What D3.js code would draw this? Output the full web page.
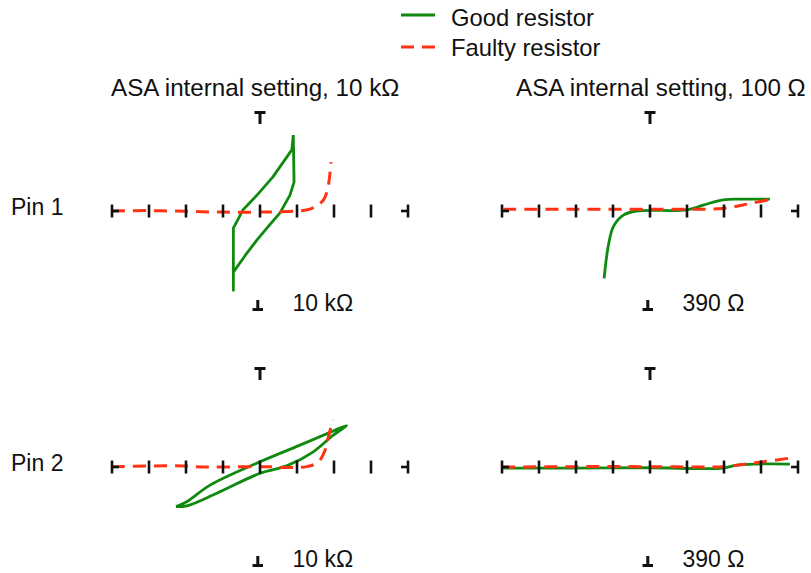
<!DOCTYPE html>
<html>
<head>
<meta charset="utf-8">
<script src="https://cdn.jsdelivr.net/npm/d3@7"></script>
<style>
  html, body { margin: 0; padding: 0; background: #fff; }
  svg { display: block; font-family: "Liberation Sans", Arial, sans-serif; }
</style>
</head>
<body>
<svg id="chart" width="811" height="573"></svg>
<script>
// ---------------- data ----------------
const columnTitles = ["ASA internal setting, 10 k\u03A9", "ASA internal setting, 100 \u03A9"];
const rowLabels = ["Pin 1", "Pin 2"];
const scaleLabels = [["10 k\u03A9", "390 \u03A9"], ["10 k\u03A9", "390 \u03A9"]];
const seriesNames = ["Good resistor", "Faulty resistor"];
const xTicks = [-4, -3, -2, -1, 0, 1, 2, 3, 4];

// Each curve: [x, y] in screen divisions
const goodPin1Set10k = [[0.90,2.05],[0.92,0.78],[0.81,0.43],[0.54,-0.05],[0.22,-0.42],[-0.08,-0.78],[-0.40,-1.20],[-0.72,-1.65],[-0.72,-2.14],[-0.72,-0.46],[-0.46,0.03],[-0.25,0.25],[-0.08,0.43],[0.35,0.92],[0.86,1.65],[0.90,2.05]];
const faultyPin1Set10k = [[-4,0],[-3,0.01],[-2,-0.01],[-1.03,-0.03],[0,-0.03],[1,0],[1.35,0.05],[1.57,0.16],[1.73,0.32],[1.84,0.65],[1.92,1.32]];
const goodPin1Set100 = [[-1.24,-1.82],[-1.13,-0.96],[-0.99,-0.42],[-0.72,-0.11],[-0.36,0],[0.99,0.03],[1.44,0.16],[1.98,0.30],[2.43,0.32],[3.24,0.32]];
const faultyPin1Set100 = [[-3.96,0.05],[-2,0.05],[0,0.05],[1.08,0.05],[1.97,0.07],[2.7,0.2],[3.38,0.34]];
const goodPin2Set10k = [[-2.27,-1.07],[-1.98,-0.94],[-1.35,-0.49],[0,0.14],[1.08,0.59],[1.98,0.97],[2.34,1.12],[1.98,0.86],[1.44,0.41],[0.72,0.03],[0,-0.17],[-1.17,-0.71],[-1.98,-1.05],[-2.27,-1.07]];
const faultyPin2Set10k = [[-4,0.01],[-2.07,0.03],[-1.62,0],[0,0.01],[1.26,0.01],[1.58,0.14],[1.76,0.46],[1.85,0.82],[1.97,1.27]];
const goodPin2Set100 = [[-3.99,-0.03],[-2,-0.03],[0,-0.02],[1.98,-0.03],[2.34,0.05],[2.88,0.08],[3.78,0.08]];
const faultyPin2Set100 = [[-3.99,0],[-2,0.01],[0,0.01],[1.98,0.01],[2.52,0.07],[3.06,0.14],[3.78,0.24]];

const panels = [
  { row: 0, col: 0, good: goodPin1Set10k, faulty: faultyPin1Set10k, goodCurve: "linear" },
  { row: 0, col: 1, good: goodPin1Set100, faulty: faultyPin1Set100, goodCurve: "smooth" },
  { row: 1, col: 0, good: goodPin2Set10k, faulty: faultyPin2Set10k, goodCurve: "smooth" },
  { row: 1, col: 1, good: goodPin2Set100, faulty: faultyPin2Set100, goodCurve: "smooth" }
];

// ---------------- layout / style ----------------
const GREEN = "#0f8a0f";
const RED = "#ff3214";
const colCx = [260, 650];
const rowCy = [211, 467];
const halfW = 148, halfH = 100;

const svg = d3.select("#chart");

// legend
const legend = svg.append("g");
[[GREEN, null, 15, 26], [RED, "13,8", 47, 56]].forEach((s, i) => {
  legend.append("line")
    .attr("x1", 401).attr("x2", 435).attr("y1", s[2]).attr("y2", s[2])
    .attr("stroke", s[0]).attr("stroke-width", 3)
    .attr("stroke-dasharray", s[1]);
  legend.append("text").attr("x", 451).attr("y", s[3])
    .attr("font-size", 23.8).attr("fill", "#111").text(seriesNames[i]);
});

// column titles
const titleX = [111, 516];
columnTitles.forEach((t, i) => {
  svg.append("text").attr("x", titleX[i]).attr("y", 96)
    .attr("font-size", 24.2).attr("fill", "#111").text(t);
});
// row labels
rowLabels.forEach((t, i) => {
  svg.append("text").attr("x", 11).attr("y", rowCy[i] + 4)
    .attr("font-size", 23).attr("fill", "#111").text(t);
});

const lineSmooth = d3.curveCatmullRom.alpha(0.5);

panels.forEach(p => {
  const cx = colCx[p.col], cy = rowCy[p.row];
  const x = d3.scaleLinear().domain([-4, 4]).range([cx - halfW, cx + halfW]);
  const y = d3.scaleLinear().domain([-2.7, 2.7]).range([cy + halfH, cy - halfH]);
  const g = svg.append("g");

  const mk = (curve) => d3.line().x(d => x(d[0])).y(d => y(d[1])).curve(curve);

  g.append("path").datum(p.good)
    .attr("d", mk(p.goodCurve === "linear" ? d3.curveLinear : lineSmooth))
    .attr("fill", "none").attr("stroke", GREEN).attr("stroke-width", 2.8)
    .attr("stroke-linejoin", "round");
  g.append("path").datum(p.faulty)
    .attr("d", mk(lineSmooth))
    .attr("fill", "none").attr("stroke", RED).attr("stroke-width", 3)
    .attr("stroke-dasharray", "13,8");

  // horizontal ticks
  const axisG = g.append("g").attr("stroke", "#111").attr("stroke-width", 2.6);
  xTicks.forEach(t => {
    axisG.append("line")
      .attr("x1", x(t)).attr("x2", x(t))
      .attr("y1", y(0) - 6.5).attr("y2", y(0) + 6.5);
  });
  // end stubs
  axisG.append("line").attr("x1", x(-4)).attr("x2", x(-4) + 7).attr("y1", y(0)).attr("y2", y(0));
  axisG.append("line").attr("x1", x(4)).attr("x2", x(4) - 7).attr("y1", y(0)).attr("y2", y(0));
  // top T
  axisG.append("line").attr("x1", x(0) - 5.5).attr("x2", x(0) + 5.5)
    .attr("y1", y(2.7) + 1.5).attr("y2", y(2.7) + 1.5).attr("stroke-width", 3);
  axisG.append("line").attr("x1", x(0)).attr("x2", x(0))
    .attr("y1", y(2.7) + 1).attr("y2", y(2.7) + 13).attr("stroke-width", 3);
  // bottom ⊥
  axisG.append("line").attr("x1", x(0) - 7.5).attr("x2", x(0) + 3)
    .attr("y1", y(-2.7) - 1.5).attr("y2", y(-2.7) - 1.5).attr("stroke-width", 3);
  axisG.append("line").attr("x1", x(0) - 2.2).attr("x2", x(0) - 2.2)
    .attr("y1", y(-2.7) - 1).attr("y2", y(-2.7) - 11).attr("stroke-width", 3);

  g.append("text").attr("x", cx + 32.5).attr("y", cy + halfH)
    .attr("font-size", 23).attr("fill", "#111")
    .text(scaleLabels[p.row][p.col]);
});
</script>
</body>
</html>
